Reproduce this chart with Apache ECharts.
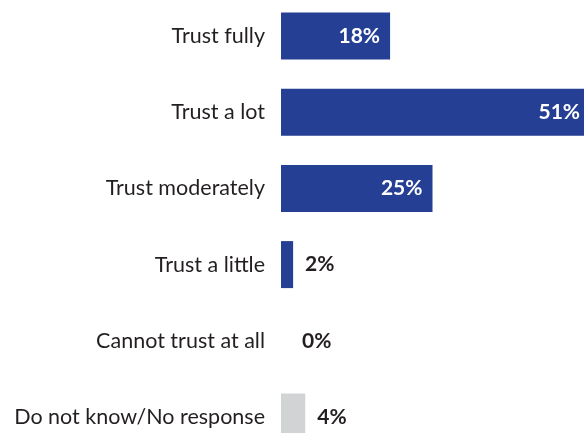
<!DOCTYPE html>
<html>
<head>
<meta charset="utf-8">
<script src="https://cdn.jsdelivr.net/npm/echarts@6/dist/echarts.min.js"></script>
<style>
  html, body { margin: 0; padding: 0; background: #ffffff; }
  #chart { width: 584px; height: 433px; }
</style>
</head>
<body>
<div id="chart"></div>
<script>
// Survey answers, top to bottom
const categories = [
  'Trust fully',
  'Trust a lot',
  'Trust moderately',
  'Trust a little',
  'Cannot trust at all',
  'Do not know/No response'
];
const shares = [18, 51, 25, 2, 0, 4];
const noAnswerCategory = 'Do not know/No response';

const BLUE = '#243f93';
const GREY = '#d2d3d5';
const TEXT = '#231f20';
const FONT = 'Lato';

// Big bars carry their value inside in white, small ones to the right in dark text
const seriesData = shares.map((v, i) => {
  const inside = v >= 10;
  return {
    value: v,
    itemStyle: { color: categories[i] === noAnswerCategory ? GREY : BLUE },
    label: inside
      ? { position: 'insideRight', distance: 10, color: '#ffffff' }
      : { position: 'right', distance: v === 0 ? 21 : 12, color: TEXT }
  };
});

const chart = echarts.init(document.getElementById('chart'), null, { renderer: 'canvas' });
chart.setOption({
  animation: false,
  // rows sit on the category ticks; the last bar runs off the bottom edge
  grid: { left: 281, right: 0, top: 36, height: 381, containLabel: false },
  xAxis: {
    type: 'value',
    min: 0,
    max: 50,
    show: false
  },
  yAxis: {
    type: 'category',
    inverse: true,
    boundaryGap: false,
    data: categories,
    axisLine: { show: false },
    axisTick: { show: false },
    splitLine: { show: false },
    axisLabel: {
      margin: 16,
      color: TEXT,
      fontFamily: FONT,
      fontSize: 21.5
    }
  },
  series: [{
    type: 'bar',
    data: seriesData,
    barWidth: 47,
    clip: false,
    label: {
      show: true,
      fontFamily: FONT,
      fontSize: 21,
      fontWeight: 'bold',
      formatter: p => p.value + '%'
    }
  }]
});
</script>
</body>
</html>
